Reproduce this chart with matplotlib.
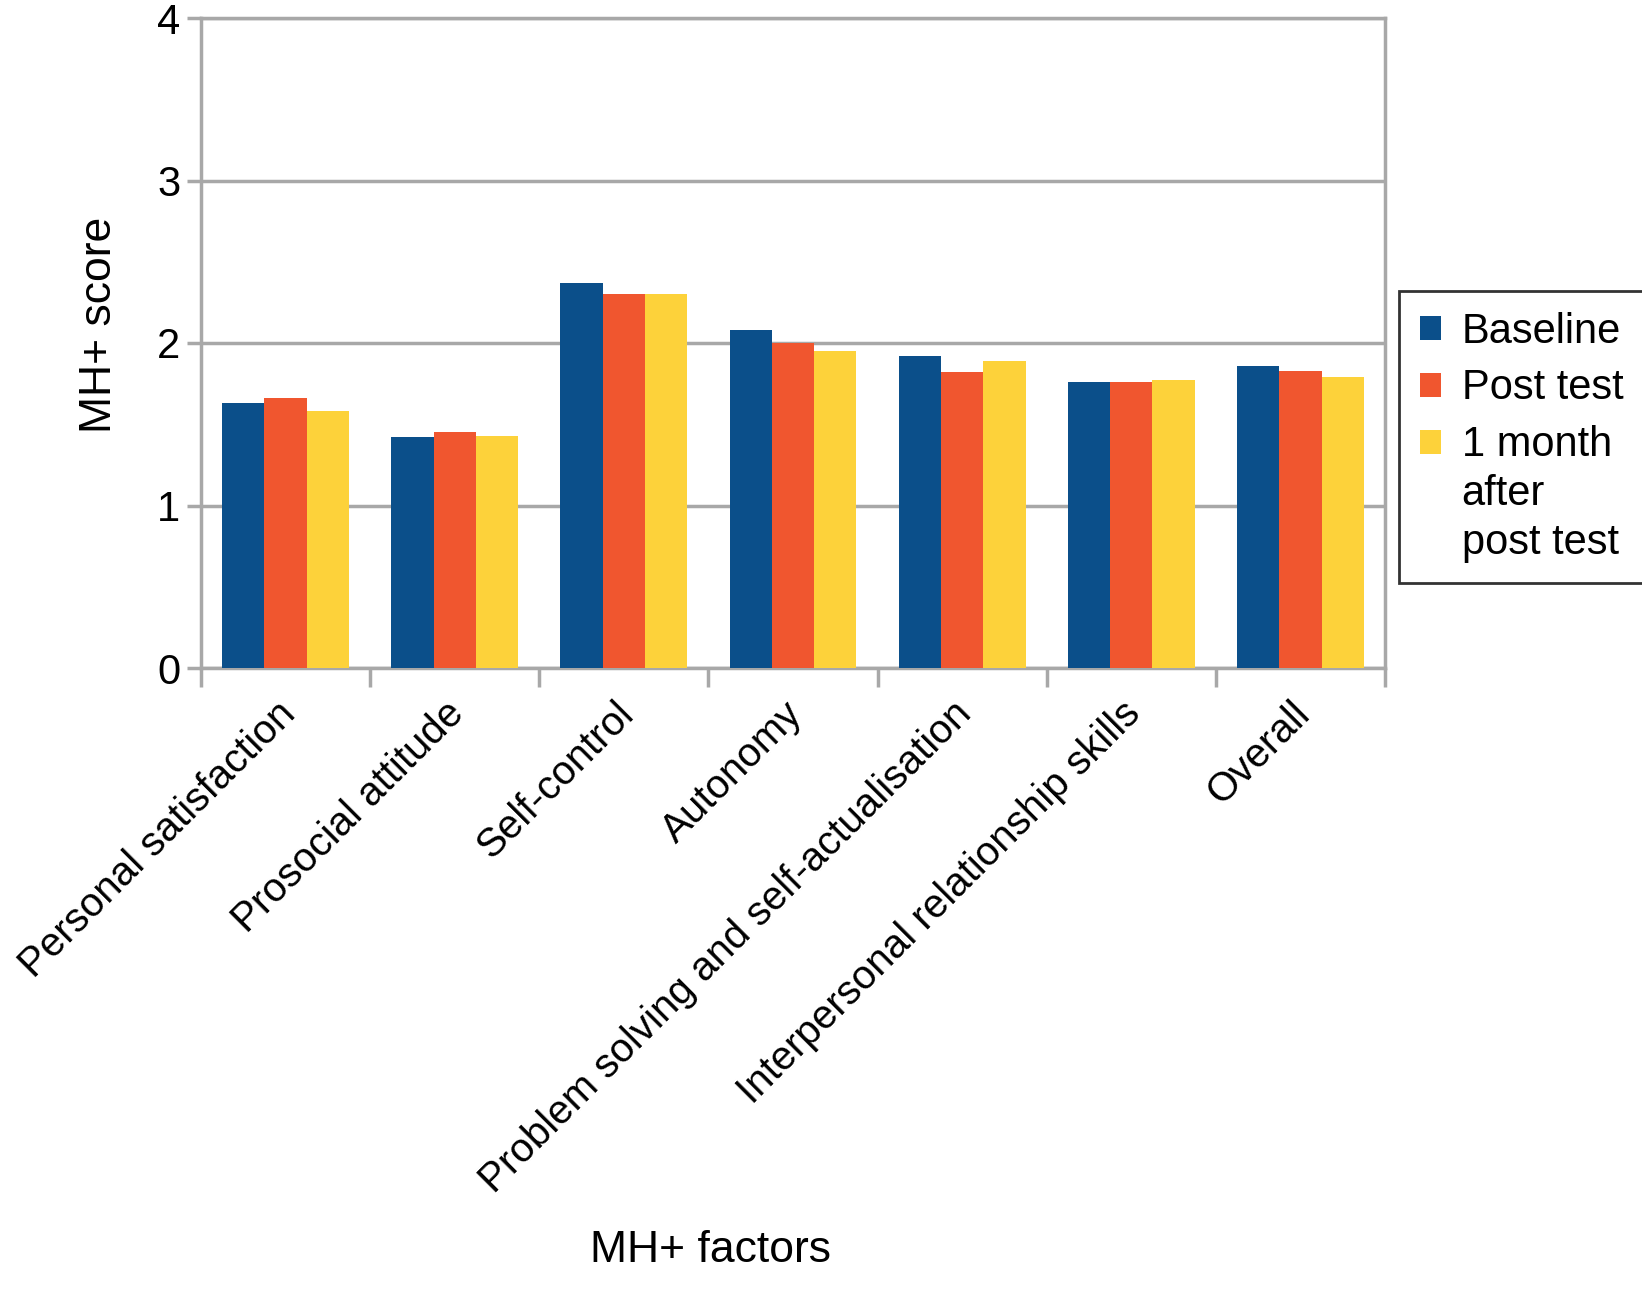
import matplotlib.pyplot as plt
import matplotlib.transforms as mtransforms
import numpy as np

plt.rcParams['font.family'] = ['Liberation Sans', 'DejaVu Sans']

# data
factors = ['Personal satisfaction', 'Prosocial attitude', 'Self-control', 'Autonomy',
           'Problem solving and self-actualisation', 'Interpersonal relationship skills',
           'Overall']
baseline = [1.63, 1.42, 2.37, 2.08, 1.92, 1.76, 1.86]
post_test = [1.66, 1.45, 2.30, 2.00, 1.82, 1.76, 1.83]
one_month = [1.58, 1.43, 2.30, 1.95, 1.89, 1.77, 1.79]
series_names = ['Baseline', 'Post test', '1 month\nafter\npost test']

colors = ['#0b4f8a', '#f0562f', '#fdd23a']
grid_col = '#a8a8a8'

fig = plt.figure(figsize=(16.42, 12.89), dpi=100)
ax = fig.add_axes([201 / 1642, 1 - 668 / 1289, (1385 - 201) / 1642, (668 - 18) / 1289])

x = np.arange(len(factors))
w = 0.25
for i, vals in enumerate([baseline, post_test, one_month]):
    ax.bar(x + (i - 1) * w, vals, w, color=colors[i], label=series_names[i], zorder=3)

ax.set_xlim(-0.5, len(factors) - 0.5)
ax.set_ylim(0, 4)
ax.set_yticks([0, 1, 2, 3, 4])
ax.yaxis.grid(True, color=grid_col, linewidth=2.5, zorder=0)
for s in ax.spines.values():
    s.set_color(grid_col)
    s.set_linewidth(2.5)
ax.tick_params(axis='y', colors=grid_col, width=2.5, length=10, labelsize=30,
               labelcolor='black', pad=5)

# category ticks at group boundaries, labels at centres
ax.set_xticks(np.arange(len(factors) + 1) - 0.5)
ax.set_xticklabels([])
ax.tick_params(axis='x', colors=grid_col, width=2.5, length=14)
ax.set_xticks(x, minor=True)
ax.set_xticklabels(factors, minor=True, rotation=45, ha='right', rotation_mode='anchor',
                   fontsize=29)
ax.tick_params(axis='x', which='minor', length=0, pad=22, labelcolor='black')
shift = mtransforms.ScaledTranslation(-0.1, 0.04, fig.dpi_scale_trans)
for lab in ax.get_xticklabels(minor=True):
    lab.set_transform(lab.get_transform() + shift)

ax.set_ylabel('MH+ score', fontsize=32)
ax.yaxis.set_label_coords(-0.068, 0.528)
fig.text(710 / 1642, 1 - 1251 / 1289, 'MH+ factors', fontsize=32, ha='center', va='center')

leg = ax.legend(loc='upper left', bbox_to_anchor=(1.012, 0.58), fontsize=30,
                frameon=True, fancybox=False, edgecolor='black', handlelength=0.5,
                handleheight=0.5, handletextpad=0.5, labelspacing=0.4,
                borderpad=0.5, borderaxespad=0)
leg.get_frame().set_linewidth(2)
leg.get_texts()[2].set_linespacing(1.28)
# put the marker of the multi-line entry next to its first line
h = leg.legend_handles[2]
h.set_y(h.get_y() + 38)

fig.savefig('out.png', dpi=100)
